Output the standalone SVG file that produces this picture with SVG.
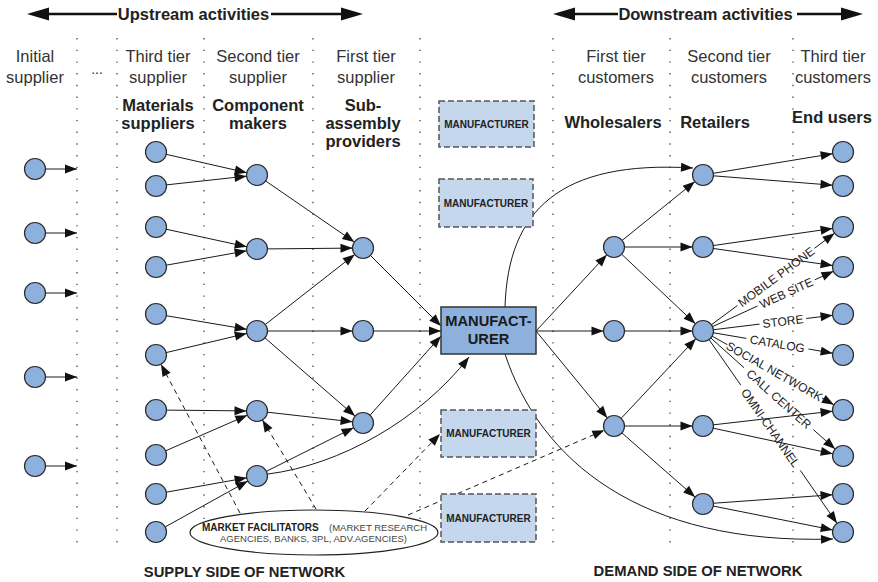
<svg xmlns="http://www.w3.org/2000/svg" width="878" height="582" viewBox="0 0 878 582">
<defs>
<marker id="an" markerUnits="userSpaceOnUse" markerWidth="23" markerHeight="9" refX="22.5" refY="4.5" orient="auto" overflow="visible"><path d="M0,0 L12,4.5 L0,9 z" fill="#111"/></marker>
<marker id="at" markerUnits="userSpaceOnUse" markerWidth="12" markerHeight="9" refX="12" refY="4.5" orient="auto" overflow="visible"><path d="M0,0 L12,4.5 L0,9 z" fill="#111"/></marker>
</defs>
<style>
text{font-family:"Liberation Sans",Arial,sans-serif}
.n{fill:#8EB0DC;stroke:#2a2a2a;stroke-width:1.2}
.e{stroke:#1a1a1a;stroke-width:1;fill:none;marker-end:url(#an)}
.et{stroke:#1a1a1a;stroke-width:1;fill:none;marker-end:url(#at)}
.p{stroke:#1a1a1a;stroke-width:1;fill:none}
.d{stroke-dasharray:5 4}
.dot{stroke:#555;stroke-width:1.4;stroke-dasharray:1.4 10.3;fill:none}
.hd{font-size:16.5px;fill:#333;text-anchor:middle}
.bl{font-size:16.5px;font-weight:bold;fill:#222;text-anchor:middle}
.mf{fill:#C5D7ED;stroke:#555;stroke-width:1.5;stroke-dasharray:6 3}
.mft{font-size:10px;font-weight:bold;fill:#222;text-anchor:middle}
.ch{font-size:12px;fill:#222;text-anchor:middle}
.big{font-size:14.8px;font-weight:bold;fill:#222;text-anchor:middle}
</style>
<rect width="878" height="582" fill="#fff"/>

<g id="headers">
<line x1="45" y1="14" x2="117" y2="14" stroke="#111" stroke-width="2.5"/>
<line x1="271" y1="14" x2="343" y2="14" stroke="#111" stroke-width="2.5"/>
<polygon points="27,14 49,7.5 49,20.5" fill="#111"/>
<polygon points="363,14 341,7.5 341,20.5" fill="#111"/>
<text x="193.5" y="20" class="bl" fill="#111">Upstream activities</text>
<line x1="572" y1="14" x2="618" y2="14" stroke="#111" stroke-width="2.5"/>
<line x1="797" y1="14" x2="844" y2="14" stroke="#111" stroke-width="2.5"/>
<polygon points="553,14 575,7.5 575,20.5" fill="#111"/>
<polygon points="863,14 841,7.5 841,20.5" fill="#111"/>
<text x="705.5" y="20" class="bl">Downstream activities</text>

<g class="dot">
<line x1="77" y1="38" x2="77" y2="546"/>
<line x1="117" y1="38" x2="117" y2="546"/>
<line x1="204" y1="38" x2="204" y2="546"/>
<line x1="313" y1="38" x2="313" y2="546"/>
<line x1="420" y1="38" x2="420" y2="546"/>
<line x1="553" y1="38" x2="553" y2="546"/>
<line x1="670" y1="38" x2="670" y2="546"/>
<line x1="793" y1="38" x2="793" y2="546"/>
</g>

<text class="hd" x="35" y="62">Initial</text><text class="hd" x="35" y="83">supplier</text>
<text class="hd" x="97" y="74" style="font-size:14px">...</text>
<text class="hd" x="158" y="62">Third tier</text><text class="hd" x="158" y="83">supplier</text>
<text class="hd" x="258" y="62">Second tier</text><text class="hd" x="258" y="83">supplier</text>
<text class="hd" x="366" y="62">First tier</text><text class="hd" x="366" y="83">supplier</text>
<text class="hd" x="616" y="62">First tier</text><text class="hd" x="616" y="83">customers</text>
<text class="hd" x="729" y="62">Second tier</text><text class="hd" x="729" y="83">customers</text>
<text class="hd" x="833" y="62">Third tier</text><text class="hd" x="833" y="83">customers</text>

<text class="bl" x="158" y="111">Materials</text><text class="bl" x="158" y="129">suppliers</text>
<text class="bl" x="258" y="111">Component</text><text class="bl" x="258" y="129">makers</text>
<text class="bl" x="363" y="111">Sub-</text><text class="bl" x="363" y="129">assembly</text><text class="bl" x="363" y="147">providers</text>
<text class="bl" x="613" y="128">Wholesalers</text>
<text class="bl" x="715" y="128">Retailers</text>
<text class="bl" x="832" y="123">End users</text>

<text class="big" x="244.5" y="577">SUPPLY SIDE OF NETWORK</text>
<text class="big" x="698" y="576">DEMAND SIDE OF NETWORK</text>
</g>

<g id="connectors">
<line class="et" x1="35" y1="169" x2="77" y2="169"/>
<line class="et" x1="35" y1="233" x2="77" y2="233"/>
<line class="et" x1="35" y1="293" x2="77" y2="293"/>
<line class="et" x1="35" y1="377" x2="77" y2="377"/>
<line class="et" x1="35" y1="466" x2="77" y2="466"/>

<line class="e" x1="156" y1="152" x2="257" y2="175"/>
<line class="e" x1="156" y1="186" x2="257" y2="175"/>
<line class="e" x1="156" y1="227" x2="257" y2="249"/>
<line class="e" x1="156" y1="267" x2="257" y2="249"/>
<line class="e" x1="156" y1="314" x2="257" y2="331"/>
<line class="e" x1="156" y1="355" x2="257" y2="331"/>
<line class="e" x1="156" y1="410" x2="257" y2="411"/>
<line class="e" x1="156" y1="455" x2="257" y2="411"/>
<line class="e" x1="156" y1="494" x2="257" y2="476"/>
<line class="e" x1="156" y1="532" x2="257" y2="476"/>

<line class="e" x1="257" y1="175" x2="363" y2="248"/>
<line class="e" x1="257" y1="249" x2="363" y2="248"/>
<line class="e" x1="257" y1="331" x2="363" y2="248"/>
<line class="e" x1="257" y1="331" x2="363" y2="331"/>
<line class="e" x1="257" y1="331" x2="363" y2="423"/>
<line class="e" x1="257" y1="411" x2="363" y2="423"/>
<line class="e" x1="257" y1="476" x2="363" y2="423"/>
<path class="et" d="M268,474 C340,465 420,420 469,357"/>

<line class="et" x1="363" y1="248" x2="441" y2="326"/>
<line class="et" x1="363" y1="331" x2="441" y2="331"/>
<line class="et" x1="363" y1="423" x2="441" y2="336"/>

<line class="e" x1="536" y1="331" x2="614" y2="247"/>
<line class="e" x1="536" y1="331" x2="614" y2="331"/>
<line class="e" x1="536" y1="331" x2="614" y2="426"/>
<path class="et" d="M505,307 C508,210 560,160 693,168"/>
<path class="et" d="M505,354 C540,460 640,545 833,539"/>

<line class="e" x1="614" y1="247" x2="703" y2="175"/>
<line class="e" x1="614" y1="247" x2="703" y2="247"/>
<line class="e" x1="614" y1="247" x2="703" y2="331"/>
<line class="e" x1="614" y1="331" x2="703" y2="331"/>
<line class="e" x1="614" y1="426" x2="703" y2="331"/>
<line class="e" x1="614" y1="426" x2="703" y2="426"/>
<line class="e" x1="614" y1="426" x2="703" y2="504"/>

<line class="e" x1="703" y1="175" x2="843" y2="152"/>
<line class="e" x1="703" y1="175" x2="843" y2="186"/>
<line class="e" x1="703" y1="247" x2="843" y2="227"/>
<line class="e" x1="703" y1="247" x2="843" y2="267"/>
<line class="e" x1="703" y1="426" x2="843" y2="410"/>
<line class="e" x1="703" y1="426" x2="843" y2="456"/>
<line class="e" x1="703" y1="504" x2="843" y2="494"/>
<line class="e" x1="703" y1="504" x2="843" y2="532"/>

<line class="p" x1="703" y1="331" x2="737.5" y2="305.4"/>
<line class="e" x1="814.6" y1="248.2" x2="843" y2="227"/>
<text class="ch" transform="translate(776.1,276.8) rotate(-36.6)" y="4.3">MOBILE PHONE</text>
<line class="p" x1="703" y1="331" x2="757.5" y2="306"/>
<line class="e" x1="814.8" y1="279.8" x2="843" y2="267"/>
<text class="ch" transform="translate(786.2,292.9) rotate(-24.6)" y="4.3">WEB SITE</text>
<line class="p" x1="703" y1="331" x2="759.6" y2="324.1"/>
<line class="e" x1="806.2" y1="318.5" x2="843" y2="314"/>
<text class="ch" transform="translate(782.9,321.3) rotate(-6.9)" y="4.3">STORE</text>
<line class="p" x1="703" y1="331" x2="746.4" y2="338.4"/>
<line class="e" x1="808.5" y1="349" x2="843" y2="355"/>
<text class="ch" transform="translate(777.4,343.7) rotate(9.7)" y="4.3">CATALOG</text>
<line class="p" x1="703" y1="331" x2="727.4" y2="344.7"/>
<line class="e" x1="822" y1="398" x2="843" y2="410"/>
<text class="ch" transform="translate(774.4,371.3) rotate(29.4)" y="4.3">SOCIAL NETWORK</text>
<line class="p" x1="703" y1="331" x2="744" y2="367.7"/>
<line class="e" x1="813.3" y1="429.6" x2="843" y2="456"/>
<text class="ch" transform="translate(779,399) rotate(41.8)" y="4.3">CALL CENTER</text>
<line class="p" x1="703" y1="331" x2="740.8" y2="385.1"/>
<line class="e" x1="800.3" y1="470.4" x2="843" y2="532"/>
<text class="ch" transform="translate(770.5,427.8) rotate(55.1)" y="4.3">OMNI-CHANNEL</text>

<line class="e d" x1="240" y1="513" x2="156" y2="355"/>
<line class="e d" x1="316" y1="509" x2="257" y2="411"/>
<line class="et d" x1="365" y1="511" x2="440" y2="434"/>
<line class="e d" x1="408" y1="515" x2="614" y2="426"/>
</g>

<g id="initial-suppliers">
<g id="i1"><circle class="n" cx="35" cy="169" r="10.5"/></g>
<g id="i2"><circle class="n" cx="35" cy="233" r="10.5"/></g>
<g id="i3"><circle class="n" cx="35" cy="293" r="10.5"/></g>
<g id="i4"><circle class="n" cx="35" cy="377" r="10.5"/></g>
<g id="i5"><circle class="n" cx="35" cy="466" r="10.5"/></g>
</g>
<g id="materials-suppliers">
<g id="m1"><circle class="n" cx="156" cy="152" r="10.5"/></g>
<g id="m2"><circle class="n" cx="156" cy="186" r="10.5"/></g>
<g id="m3"><circle class="n" cx="156" cy="227" r="10.5"/></g>
<g id="m4"><circle class="n" cx="156" cy="267" r="10.5"/></g>
<g id="m5"><circle class="n" cx="156" cy="314" r="10.5"/></g>
<g id="m6"><circle class="n" cx="156" cy="355" r="10.5"/></g>
<g id="m7"><circle class="n" cx="156" cy="410" r="10.5"/></g>
<g id="m8"><circle class="n" cx="156" cy="455" r="10.5"/></g>
<g id="m9"><circle class="n" cx="156" cy="494" r="10.5"/></g>
<g id="m10"><circle class="n" cx="156" cy="532" r="10.5"/></g>
</g>
<g id="component-makers">
<g id="c1"><circle class="n" cx="257" cy="175" r="10.5"/></g>
<g id="c2"><circle class="n" cx="257" cy="249" r="10.5"/></g>
<g id="c3"><circle class="n" cx="257" cy="331" r="10.5"/></g>
<g id="c4"><circle class="n" cx="257" cy="411" r="10.5"/></g>
<g id="c5"><circle class="n" cx="257" cy="476" r="10.5"/></g>
</g>
<g id="subassembly">
<g id="s1"><circle class="n" cx="363" cy="248" r="10.5"/></g>
<g id="s2"><circle class="n" cx="363" cy="331" r="10.5"/></g>
<g id="s3"><circle class="n" cx="363" cy="423" r="10.5"/></g>
</g>
<g id="manufacturer-main">
<rect x="441" y="307" width="95" height="47" fill="#8EB0DC" stroke="#333" stroke-width="1.5"/>
<text x="488.5" y="326" style="font-size:14.7px;font-weight:bold;fill:#1a1a1a;text-anchor:middle">MANUFACT-</text>
<text x="488.5" y="344" style="font-size:14.7px;font-weight:bold;fill:#1a1a1a;text-anchor:middle">URER</text>
</g>
<g id="manufacturer-1"><rect class="mf" x="439" y="101" width="95" height="46"/><text class="mft" x="486.5" y="127.6">MANUFACTURER</text></g>
<g id="manufacturer-2"><rect class="mf" x="439" y="179" width="94" height="48"/><text class="mft" x="486" y="206.6">MANUFACTURER</text></g>
<g id="manufacturer-3"><rect class="mf" x="441" y="410" width="95" height="47"/><text class="mft" x="488.5" y="437.1">MANUFACTURER</text></g>
<g id="manufacturer-4"><rect class="mf" x="441" y="494" width="95" height="48"/><text class="mft" x="488.5" y="521.6">MANUFACTURER</text></g>
<g id="wholesalers">
<g id="w1"><circle class="n" cx="614" cy="247" r="10.5"/></g>
<g id="w2"><circle class="n" cx="614" cy="331" r="10.5"/></g>
<g id="w3"><circle class="n" cx="614" cy="426" r="10.5"/></g>
</g>
<g id="retailers">
<g id="r1"><circle class="n" cx="703" cy="175" r="10.5"/></g>
<g id="r2"><circle class="n" cx="703" cy="247" r="10.5"/></g>
<g id="r3"><circle class="n" cx="703" cy="331" r="10.5"/></g>
<g id="r4"><circle class="n" cx="703" cy="426" r="10.5"/></g>
<g id="r5"><circle class="n" cx="703" cy="504" r="10.5"/></g>
</g>
<g id="end-users">
<g id="u1"><circle class="n" cx="843" cy="152" r="10.5"/></g>
<g id="u2"><circle class="n" cx="843" cy="186" r="10.5"/></g>
<g id="u3"><circle class="n" cx="843" cy="227" r="10.5"/></g>
<g id="u4"><circle class="n" cx="843" cy="267" r="10.5"/></g>
<g id="u5"><circle class="n" cx="843" cy="314" r="10.5"/></g>
<g id="u6"><circle class="n" cx="843" cy="355" r="10.5"/></g>
<g id="u7"><circle class="n" cx="843" cy="410" r="10.5"/></g>
<g id="u8"><circle class="n" cx="843" cy="456" r="10.5"/></g>
<g id="u9"><circle class="n" cx="843" cy="494" r="10.5"/></g>
<g id="u10"><circle class="n" cx="843" cy="532" r="10.5"/></g>
</g>
<g id="market-facilitators">
<ellipse cx="314" cy="532.5" rx="124" ry="22.5" fill="#fff" stroke="#222" stroke-width="1.2"/>
<text y="531" style="font-size:10px;fill:#444"><tspan x="202" style="font-weight:bold;fill:#222">MARKET FACILITATORS</tspan><tspan x="329" style="font-size:9.5px">(MARKET RESEARCH</tspan></text>
<text x="313.5" y="542" style="font-size:9.5px;fill:#444;text-anchor:middle">AGENCIES, BANKS, 3PL, ADV.AGENCIES)</text>
</g>
</svg>
